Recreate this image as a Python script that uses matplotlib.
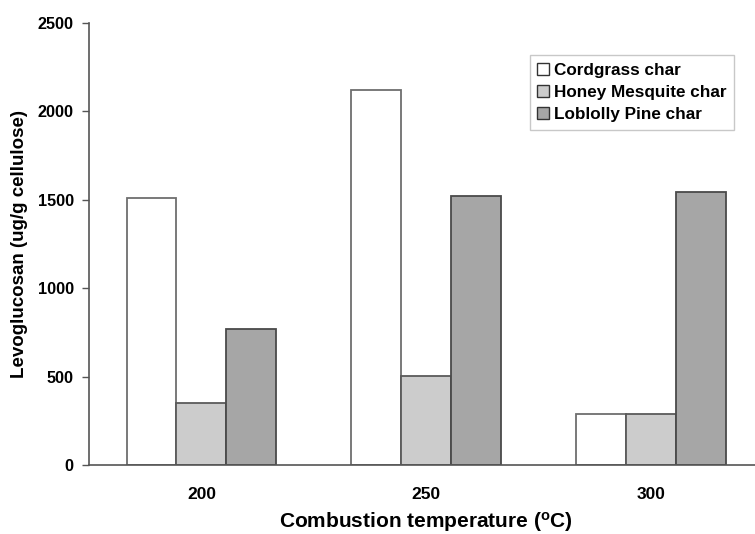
import matplotlib
matplotlib.use('Agg')
import matplotlib.pyplot as plt
import numpy as np

temperatures = ['200', '250', '300']
series_names = ['Cordgrass char', 'Honey Mesquite char', 'Loblolly Pine char']
cordgrass = [1510, 2120, 290]
honey_mesquite = [350, 505, 290]
loblolly_pine = [770, 1520, 1545]
y_ticks = [0, 500, 1000, 1500, 2000, 2500]


def draw_levoglucosan_chart():
    plt.rcParams['font.family'] = ['Liberation Sans', 'DejaVu Sans']
    plt.rcParams['font.weight'] = 'bold'
    plt.rcParams['mathtext.fontset'] = 'custom'
    plt.rcParams['mathtext.rm'] = 'Liberation Sans:bold'
    plt.rcParams['mathtext.default'] = 'rm'

    fig = plt.figure(figsize=[7.55, 5.34], dpi=100)
    ax = fig.add_axes([89 / 755, 1 - 465 / 534, 674.5 / 755, 442 / 534])

    x = np.arange(len(temperatures))
    bar_w = 0.222
    fills = ['#ffffff', '#cccccc', '#a6a6a6']
    edges = ['#6e6e6e', '#5a5a5a', '#4a4a4a']
    for i, (vals, name) in enumerate(zip([cordgrass, honey_mesquite, loblolly_pine],
                                         series_names)):
        ax.bar(x + (i - 1) * bar_w, vals, bar_w, color=fills[i],
               edgecolor=edges[i], linewidth=1.3, label=name, zorder=2)

    ax.set_xlim(-0.5, 2.5)
    ax.set_ylim(0, 2500)
    ax.set_yticks(y_ticks)
    ax.set_xticks(x)
    ax.set_xticklabels(temperatures)
    ax.tick_params(axis='y', length=5, width=1, color='#555555', labelsize=11.7, pad=6)
    ax.tick_params(axis='x', length=0, labelsize=12.5, pad=16)
    for side in ['top', 'right']:
        ax.spines[side].set_visible(False)
    for side in ['left', 'bottom']:
        ax.spines[side].set_color('#555555')
        ax.spines[side].set_linewidth(1.2)

    ax.set_xlabel(r'Combustion temperature ($^{o}$C)', fontsize=15,
                  fontweight='bold', labelpad=5.5)
    ax.set_ylabel('Levoglucosan (ug/g cellulose)', fontsize=13.5,
                  fontweight='bold', labelpad=7)

    leg = ax.legend(loc='upper right', bbox_to_anchor=(0.956, 0.928),
                    fontsize=12.3, handlelength=0.7, handleheight=0.7,
                    handletextpad=0.25, labelspacing=0.42, borderpad=0.45,
                    borderaxespad=0, fancybox=False, frameon=True)
    leg.get_frame().set_edgecolor('#bbbbbb')
    leg.get_frame().set_linewidth(1.0)
    for h in leg.legend_handles:
        h.set_linewidth(1.0)
        h.set_edgecolor('#333333')

    plt.savefig('out.png', dpi=100, facecolor='white')


if __name__ == '__main__':
    draw_levoglucosan_chart()
